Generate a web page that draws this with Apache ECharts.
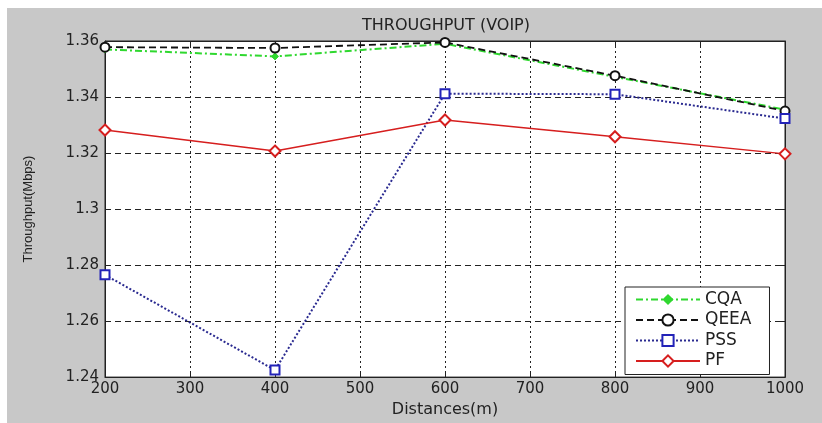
<!DOCTYPE html>
<html>
<head>
<meta charset="utf-8">
<script src="https://cdn.jsdelivr.net/npm/echarts@6/dist/echarts.min.js"></script>
<style>
  html, body { margin: 0; padding: 0; background: #fff; }
  #box1 { width: 822px; height: 423px; }
</style>
</head>
<body>
<div id="box1"></div>
<script>
// data
var distances = [200, 400, 600, 800, 1000];
var cqa = [1.3570, 1.3545, 1.3590, 1.3472, 1.3355];
var qeea = [1.3578, 1.3575, 1.3595, 1.3476, 1.3350];
var pss = [1.2765, 1.2425, 1.3412, 1.3410, 1.3323];
var pf = [1.3282, 1.3207, 1.3318, 1.3258, 1.3197];
var yTicks = [1.24, 1.26, 1.28, 1.3, 1.32, 1.34, 1.36];

function pairs(vals) {
  return distances.map(function(d, i) {
    return [d, vals[i]];
  });
}

var chart = echarts.init(document.getElementById('box1'));

var gridLine = function(dash) {
  return { show: true, lineStyle: { color: '#222', width: 1, type: dash } };
};

var option = {
  backgroundColor: '#fff',
  animation: false,
  graphic: [{
    type: 'rect',
    z: -10,
    shape: { x: 7, y: 8, width: 815, height: 415 },
    style: { fill: '#c8c8c8' }
  }],
  title: {
    text: 'THROUGHPUT (VOIP)',
    left: 441,
    top: 13,
    textAlign: 'center',
    textStyle: { fontFamily: 'DejaVu Sans', fontSize: 16, fontWeight: 'normal', color: '#222' }
  },
  legend: {
    orient: 'vertical',
    left: 625,
    top: 287,
    padding: [4, 18, 5, 10],
    itemWidth: 64,
    itemHeight: 14,
    itemGap: 3.5,
    backgroundColor: '#fff',
    borderColor: '#222',
    borderWidth: 1,
    textStyle: { fontFamily: 'DejaVu Sans', fontSize: 17, lineHeight: 15, color: '#222' },
    data: ['CQA', 'QEEA', 'PSS', 'PF']
  },
  grid: {
    left: 105,
    right: 37,
    top: 41,
    bottom: 40,
    show: true,
    backgroundColor: '#fff',
    borderColor: '#222',
    borderWidth: 1
  },
  xAxis: [{
    type: 'value',
    min: 200,
    max: 1000,
    interval: 100,
    name: 'Distances(m)',
    nameLocation: 'middle',
    nameGap: 20,
    nameTextStyle: { fontFamily: 'DejaVu Sans', fontSize: 16, color: '#222' },
    axisLine: { show: true, lineStyle: { color: '#222' } },
    axisTick: { show: true, inside: true, length: 5, lineStyle: { color: '#222' } },
    axisLabel: {
      fontFamily: 'DejaVu Sans', fontSize: 15, color: '#222', margin: 5,
      formatter: function(v) { return String(v); }
    },
    splitLine: gridLine([2, 3])
  }, {
    type: 'value',
    position: 'top',
    min: 200,
    max: 1000,
    interval: 100,
    axisLine: { show: true, lineStyle: { color: '#222' } },
    axisTick: { show: true, inside: true, length: 5, lineStyle: { color: '#222' } },
    axisLabel: { show: false },
    splitLine: { show: false }
  }],
  yAxis: [{
    type: 'value',
    min: 1.24,
    max: 1.36,
    interval: 0.02,
    name: 'Throughput(Mbps)',
    nameLocation: 'middle',
    nameGap: 70,
    nameTextStyle: { fontFamily: 'Liberation Sans', fontSize: 13, color: '#222' },
    axisLine: { show: true, lineStyle: { color: '#222' } },
    axisTick: { show: true, inside: true, length: 5, lineStyle: { color: '#222' } },
    axisLabel: {
      fontFamily: 'DejaVu Sans', fontSize: 15, color: '#222', margin: 6,
      formatter: function(v) {
        var r = Math.round(v * 100) / 100;
        return yTicks.indexOf(r) >= 0 ? String(r) : '';
      }
    },
    splitLine: gridLine([6, 4])
  }, {
    type: 'value',
    position: 'right',
    min: 1.24,
    max: 1.36,
    interval: 0.02,
    axisLine: { show: true, lineStyle: { color: '#222' } },
    axisTick: { show: true, inside: true, length: 5, lineStyle: { color: '#222' } },
    axisLabel: { show: false },
    splitLine: { show: false }
  }],
  series: [{
    name: 'CQA',
    type: 'line',
    data: pairs(cqa),
    symbol: 'diamond',
    symbolSize: 7,
    color: '#2fd82f',
    itemStyle: { color: '#2fd82f', borderColor: '#2fd82f' },
    lineStyle: { color: '#2fd82f', width: 2, type: [7, 3, 2, 3] },
    z: 3
  }, {
    name: 'QEEA',
    type: 'line',
    data: pairs(qeea),
    symbol: 'circle',
    symbolSize: 9,
    color: '#111',
    itemStyle: { color: '#fff', borderColor: '#111', borderWidth: 2 },
    lineStyle: { color: '#111', width: 1.8, type: [7, 4] },
    z: 4
  }, {
    name: 'PSS',
    type: 'line',
    data: pairs(pss),
    symbol: 'rect',
    symbolSize: 9,
    color: '#2323b8',
    itemStyle: { color: '#fff', borderColor: '#2323b8', borderWidth: 2 },
    lineStyle: { color: '#2a2a90', width: 2, type: [2, 2] },
    z: 5
  }, {
    name: 'PF',
    type: 'line',
    data: pairs(pf),
    symbol: 'diamond',
    symbolSize: 11,
    color: '#d61e1e',
    itemStyle: { color: '#fff', borderColor: '#d61e1e', borderWidth: 2 },
    lineStyle: { color: '#d61e1e', width: 1.5 },
    z: 6
  }]
};

chart.setOption(option);
</script>
</body>
</html>
